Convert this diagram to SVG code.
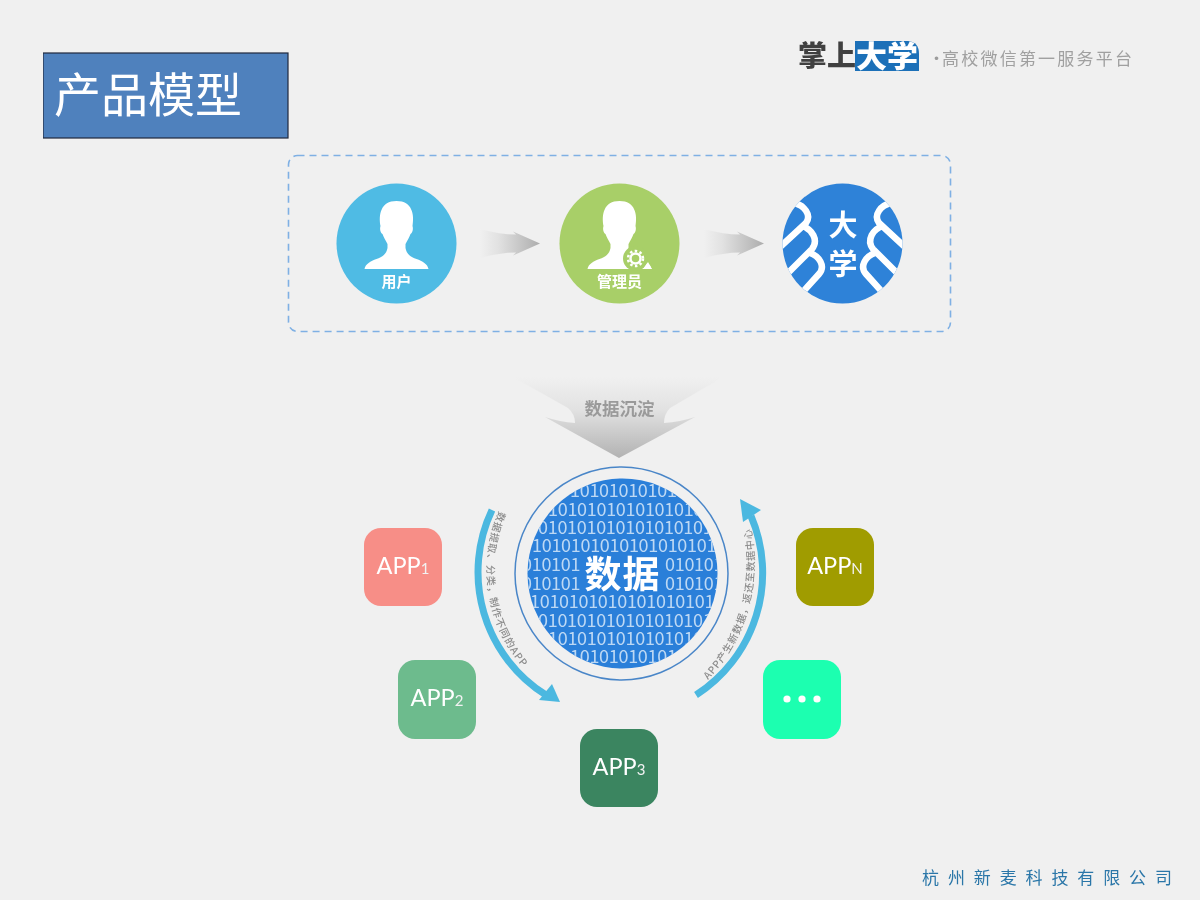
<svg xmlns="http://www.w3.org/2000/svg" width="1200" height="900" viewBox="0 0 1200 900">
<style>
text{font-family:"Noto Sans CJK SC","Noto Sans",sans-serif}
.w{fill:#fff}
.app{font-family:"Lato","Open Sans",sans-serif;fill:#fff;font-size:23.5px;text-anchor:middle}
.sub{font-size:15px;fill:#f2f2f2}
.bin{font-family:"Open Sans","Noto Sans",sans-serif;font-size:18px;fill:#bcd8f4;letter-spacing:-.3px}
.arc{fill:none;stroke:#4cb8e0;stroke-width:7}
.hd{fill:#4cb8e0}
.cap{font-size:10px;fill:#8c8c8c;font-weight:500}
.lab{font-size:15px;font-weight:700;fill:#fff;text-anchor:middle}
</style>
<defs>
<filter id="soft" x="0" y="0" width="100%" height="100%"><feGaussianBlur stdDeviation=".4"/></filter>
<linearGradient id="ga" x1="0" x2="1" y1="0" y2="0"><stop offset="0" stop-color="#f0f0f0"/><stop offset=".3" stop-color="#e2e2e2"/><stop offset="1" stop-color="#adadad"/></linearGradient>
<linearGradient id="gb" x1="0" x2="0" y1="0" y2="1"><stop offset="0" stop-color="#f0f0f0"/><stop offset=".4" stop-color="#e2e2e2"/><stop offset="1" stop-color="#b2b2b2"/></linearGradient>
<clipPath id="cd"><circle cx="622.500" cy="573.500" r="95"/></clipPath>
<clipPath id="cu"><circle cx="842.500" cy="243.500" r="60"/></clipPath>
<path id="person" d="M-32,26 C-31,21 -26,18 -20,16 C-14,14 -10,11 -9,5 L-9,1 C-11,-3 -13,-6 -14,-9 C-16,-10 -17,-14 -16,-17 C-18,-28 -16,-42 0,-42 C16,-42 18,-28 16,-17 C17,-14 16,-10 14,-9 C13,-6 11,-3 9,1 L9,5 C10,11 14,14 20,16 C26,18 31,21 32,26 Z" fill="#fff"/>
<path id="aw" d="M0,-14.500 Q20,-9 36,-9 L33,-12 L60,0 L33,12 L36,9 Q20,9 0,14.500 Z" fill="url(#ga)"/>
<g id="band" fill="none" stroke="#fff" stroke-width="6.500">
<path d="M794,203 C804,205 812,215 806,223 L780,247"/>
<path d="M802,226 C812,229 819,240 812,249 L785,276"/>
<path d="M810,253 C819,256 826,266 819,274 L801,294"/>
</g>
<path id="tl" d="M499,511 A150,150 0 0 0 525,670"/>
<path id="tr" d="M708,680 A170,170 0 0 0 750,525"/>
</defs>
<rect width="1200" height="900" fill="#f0f0f0"/>
<g filter="url(#soft)">

<g id="title">
<rect x="43" y="53" width="245" height="85" fill="#4f81bd" stroke="#1f2a3c" stroke-width="1.200"/>
<text x="54" y="112" font-size="47" class="w">产品模型</text>
</g>

<g id="logo">
<text x="798" y="66" font-size="28" font-weight="900" fill="#3f3f3f" textLength="58" lengthAdjust="spacingAndGlyphs">掌上</text>
<path d="M855,41 H908 Q919,42 919,54 V71 H855 Z" fill="#1a70b8"/>
<text x="856" y="67" font-size="30" font-weight="900" fill="#fff" textLength="62" lengthAdjust="spacingAndGlyphs">大学</text>
<text x="928" y="65" font-size="17" fill="#9c9c9c">·</text>
<text x="942" y="65" font-size="17" fill="#a0a0a0" textLength="190">高校微信第一服务平台</text>
</g>

<rect id="frame" x="288.500" y="155.500" width="662" height="176" rx="9" fill="none" stroke="#7fb0e4" stroke-width="1.600" stroke-dasharray="7 5"/>

<g id="user">
<circle cx="396.500" cy="243.500" r="60" fill="#4fbbe4"/>
<use href="#person" x="396.500" y="243"/>
<text x="396.500" y="287" class="lab">用户</text>
</g>
<g id="admin">
<circle cx="619.500" cy="243.500" r="60" fill="#a8cf68"/>
<use href="#person" x="619.500" y="243"/>
<circle cx="635.500" cy="258.500" r="12.500" fill="#a8cf68"/>
<circle cx="635.500" cy="258.500" r="5" fill="none" stroke="#fff" stroke-width="2.500"/>
<circle cx="635.500" cy="258.500" r="7.500" fill="none" stroke="#fff" stroke-width="2.500" stroke-dasharray="2.500 2.400"/>
<path d="M643,269 L648,262 L652,269 Z" fill="#fff"/>
<text x="619.500" y="287" class="lab">管理员</text>
</g>
<g id="university">
<circle cx="842.500" cy="243.500" r="60" fill="#2d82d8"/>
<g clip-path="url(#cu)">
<use href="#band"/>
<use href="#band" transform="translate(1685,0) scale(-1,1)"/>
</g>
<text x="843" y="236" font-size="29" font-weight="700" class="w" text-anchor="middle">大</text>
<text x="843" y="275" font-size="29" font-weight="700" class="w" text-anchor="middle">学</text>
</g>

<g id="connectors">
<use href="#aw" x="480" y="243.500"/>
<use href="#aw" x="704" y="243.500"/>
<path d="M513,377 H723 L670,408 Q664,414 664,423 Q680,422 695,417 L619,458 L545,417 Q560,422 575,423 Q575,414 568,408 Z" fill="url(#gb)"/>
<path class="arc" d="M492,510 A145,145 0 0 0 546,695"/>
<path class="hd" d="M560,702 L539,700 L552,684 Z"/>
<path class="arc" d="M696,695 A145,145 0 0 0 751,516"/>
<path class="hd" d="M740,499 L761,510 L743,522 Z"/>
</g>
<text id="sediment" x="619.500" y="415" font-size="17.500" font-weight="700" fill="#9a9a9a" text-anchor="middle">数据沉淀</text>

<g id="data">
<circle cx="621.500" cy="573.500" r="106.500" fill="none" stroke="#4a86c8" stroke-width="1.500"/>
<circle cx="622.500" cy="573.500" r="95" fill="#2b7fd9"/>
<g clip-path="url(#cd)" class="bin">
<text x="570" y="497">101010101010</text>
<text x="548" y="516">1010101010101010</text>
<text x="538" y="534">010101010101010101</text>
<text x="532" y="552">10101010101010101010</text>
<text x="522" y="571">010101</text><text x="665" y="571">010101</text>
<text x="522" y="590">010101</text><text x="665" y="590">010101</text>
<text x="530" y="608">10101010101010101010</text>
<text x="538" y="627">010101010101010101</text>
<text x="548" y="645">1010101010101010</text>
<text x="570" y="663">101010101010</text>
</g>
<text x="622.500" y="588" font-size="37" font-weight="700" class="w" text-anchor="middle" letter-spacing="1">数据</text>
</g>

<g id="captions" class="cap">
<text><textPath href="#tl" textLength="166">数据提取、分类，制作不同的APP</textPath></text>
<text><textPath href="#tr" textLength="163">APP产生新数据，返还至数据中心</textPath></text>
</g>

<g id="app1"><rect x="364" y="528" width="78" height="78" rx="17" fill="#f78e87"/><text x="403" y="574" class="app">APP<tspan class="sub">1</tspan></text></g>
<g id="app2"><rect x="398" y="660" width="78" height="79" rx="17" fill="#6dbb8d"/><text x="437" y="706" class="app">APP<tspan class="sub">2</tspan></text></g>
<g id="app3"><rect x="580" y="729" width="78" height="78" rx="17" fill="#3a8560"/><text x="619" y="775" class="app">APP<tspan class="sub">3</tspan></text></g>
<g id="appn"><rect x="796" y="528" width="78" height="78" rx="17" fill="#a09c00"/><text x="835" y="574" class="app">APP<tspan class="sub">N</tspan></text></g>
<g id="more"><rect x="763" y="660" width="78" height="79" rx="17" fill="#1fffb0"/><circle cx="787" cy="699" r="3.600" fill="#fff"/><circle cx="802" cy="699" r="3.600" fill="#fff"/><circle cx="817" cy="699" r="3.600" fill="#fff"/></g>

<text id="footer" x="922" y="884" font-size="17" fill="#2a76a8" textLength="250">杭州新麦科技有限公司</text>
</g>
</svg>
